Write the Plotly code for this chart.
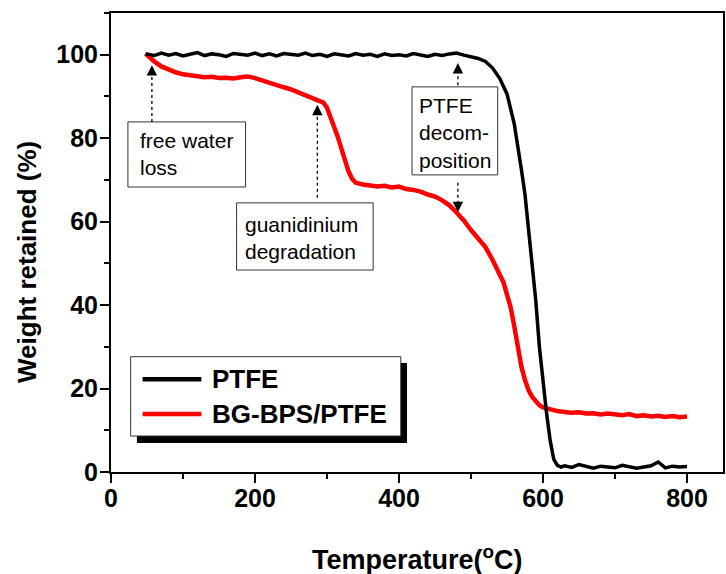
import plotly.graph_objects as go

# ---------------- data ----------------
ptfe_T = [48, 60, 70, 80, 90, 100, 110, 120, 130, 140, 150, 160, 170, 180, 190,
          200, 210, 220, 230, 240, 250, 260, 270, 280, 290, 300, 310, 320, 330,
          340, 350, 360, 370, 380, 390, 400, 410, 420, 430, 440, 450, 460, 470,
          480, 490, 500, 510, 520, 530, 540, 550, 560, 565, 570, 575, 580, 585,
          590, 595, 600, 605, 610, 615, 620, 625, 630, 640, 650, 660, 670, 680,
          690, 700, 710, 720, 730, 740, 750, 760, 770, 780, 790, 800]
ptfe_W = [100.2, 99.8, 100.4, 99.9, 100.3, 99.7, 100.1, 100.5, 99.8, 100.2,
          100.0, 99.6, 100.3, 100.1, 99.9, 100.4, 99.8, 100.2, 99.7, 100.3,
          100.0, 99.9, 100.4, 99.8, 100.1, 99.6, 100.2, 100.0, 99.7, 100.3,
          99.9, 100.1, 99.6, 100.2, 99.8, 100.0, 99.7, 100.3, 99.9, 99.6,
          100.1, 99.8, 100.2, 100.4, 99.9, 99.6, 99.1, 98.4, 96.8, 94.3,
          90.6, 83.5, 78.5, 72.5, 66.5, 58.0, 49.5, 41.0, 30.0, 21.0,
          14.0, 7.5, 3.0, 1.6, 1.2, 1.5, 1.1, 1.8, 1.3, 0.9,
          1.4, 1.2, 1.0, 1.6, 1.3, 0.9, 1.2, 1.5, 2.4, 1.0,
          1.4, 1.2, 1.3]

bg_T = [48, 55, 60, 70, 80, 90, 100, 110, 120, 130, 140, 150, 160, 170, 180,
        190, 200, 210, 220, 230, 240, 250, 260, 270, 280, 290, 295, 300, 305,
        310, 315, 320, 325, 330, 335, 340, 350, 360, 370, 380, 390, 400, 410,
        420, 430, 440, 450, 460, 470, 480, 490, 500, 510, 520, 530, 540, 545,
        550, 555, 560, 565, 570, 575, 580, 585, 590, 595, 600, 610, 620, 630,
        640, 650, 660, 670, 680, 690, 700, 710, 720, 730, 740, 750, 760, 770,
        780, 790, 800]
bg_W = [100.3, 99.2, 98.4, 97.2, 96.4, 95.8, 95.3, 95.0, 94.8, 94.6,
        94.7, 94.4, 94.5, 94.3, 94.6, 94.8, 94.4, 93.8, 93.2, 92.8,
        92.2, 91.7, 91.0, 90.4, 89.8, 89.1, 88.5, 87.3, 85.2, 83.0,
        80.3, 77.5, 74.8, 72.0, 70.2, 69.3, 68.9, 68.7, 68.4, 68.6,
        68.2, 68.4, 67.8, 67.6, 67.2, 66.5, 66.0, 65.1, 63.9, 62.2,
        60.3, 58.0, 56.0, 53.9, 50.8, 47.5, 45.5, 42.5, 39.5, 35.0,
        29.5, 25.2, 22.0, 19.6, 18.0, 16.8, 16.0, 15.5, 15.0, 14.6,
        14.4, 14.2, 14.3, 14.0, 14.1, 13.8, 14.0, 13.7, 13.6, 13.9,
        13.4, 13.6, 13.3, 13.5, 13.2, 13.4, 13.1, 13.3]

x_ticks = [0, 200, 400, 600, 800]
y_ticks = [0, 20, 40, 60, 80, 100]
series_names = ["PTFE", "BG-BPS/PTFE"]
series_colors = ["#000000", "#ff0000"]

FONT = "Liberation Sans, Arial, Helvetica, sans-serif"

fig = go.Figure()
fig.add_trace(go.Scatter(x=bg_T, y=bg_W, mode="lines", name=series_names[1],
                         line=dict(color=series_colors[1], width=4.5),
                         showlegend=False))
fig.add_trace(go.Scatter(x=ptfe_T, y=ptfe_W, mode="lines", name=series_names[0],
                         line=dict(color=series_colors[0], width=3.5),
                         showlegend=False))

axis_common = dict(
    showline=True, linecolor="black", linewidth=2, mirror=True,
    ticks="outside", ticklen=9, tickwidth=2, tickcolor="black",
    showgrid=False, zeroline=False,
    tickfont=dict(family=FONT, size=25, color="black", weight="bold"),
)
fig.update_xaxes(range=[0, 850], tickvals=x_ticks, ticklabelstandoff=-6,
                 minor=dict(ticks="outside", ticklen=5, tickwidth=2,
                            tickcolor="black", dtick=100, tick0=0),
                 **axis_common)
fig.update_yaxes(range=[0, 110], tickvals=y_ticks, ticklabelstandoff=-3,
                 minor=dict(ticks="outside", ticklen=5, tickwidth=2,
                            tickcolor="black", dtick=10, tick0=0),
                 **axis_common)

shapes = []
annotations = []

# annotation boxes (data coords)
boxes = [
    (23.5, 186.9, 68.3, 83.9),
    (174.4, 364.1, 48.4, 64.5),
    (418.1, 537.1, 71.2, 92.3),
]
for x0, x1, y0, y1 in boxes:
    shapes.append(dict(type="rect", xref="x", yref="y", x0=x0, x1=x1, y0=y0, y1=y1,
                       line=dict(color="#333333", width=1), fillcolor="white",
                       layer="above"))

box_texts = [
    ("free water<br>loss", 37.5, 82.6),
    ("guanidinium<br>degradation", 182.8, 62.5),
    ("PTFE<br>decom-<br>position", 425.0, 91.0),
]
for txt, x, y in box_texts:
    annotations.append(dict(text=txt, x=x, y=y, xref="x", yref="y",
                            xanchor="left", yanchor="top", align="left",
                            showarrow=False,
                            font=dict(family=FONT, size=21, color="black")))

# dotted arrows
arrows = [
    (56.8, 83.9, 94.9, 97.5, 11),
    (286.6, 65.7, 85.6, 88.0, 11),
    (481.8, 92.7, 95.6, 98.0, 11),
    (481.8, 69.3, 64.7, 62.3, -11),
]
for x, ya, yb, tip, ay in arrows:
    shapes.append(dict(type="line", xref="x", yref="y", x0=x, x1=x, y0=ya, y1=yb,
                       line=dict(color="black", width=1.3, dash="dot"),
                       layer="above"))
    annotations.append(dict(text="", x=x, y=tip, xref="x", yref="y",
                            showarrow=True, ax=0, ay=ay, arrowhead=2,
                            arrowsize=1.6, arrowwidth=1.3, arrowcolor="black",
                            standoff=0))

# legend box drawn in paper coordinates
shapes.append(dict(type="rect", xref="paper", yref="paper", x0=0.0423, x1=0.4837,
                   y0=0.0632, y1=0.2375, line=dict(width=0), fillcolor="black",
                   layer="above"))
shapes.append(dict(type="rect", xref="paper", yref="paper", x0=0.0321, x1=0.4735,
                   y0=0.0784, y1=0.2512, line=dict(color="#333333", width=1),
                   fillcolor="white", layer="above"))
leg_rows = [0.2020, 0.1264]
for name, color, yy in zip(series_names, series_colors, leg_rows):
    shapes.append(dict(type="line", xref="paper", yref="paper", x0=0.0516, x1=0.1477,
                       y0=yy, y1=yy, line=dict(color=color, width=4.5),
                       layer="above"))
    annotations.append(dict(text=name, x=0.1624, y=yy, xref="paper", yref="paper",
                            xanchor="left", yanchor="middle", showarrow=False,
                            font=dict(family=FONT, size=26, color="black",
                                      weight="bold")))

# axis titles
annotations.append(dict(text="Temperature(<sup>o</sup>C)", x=0.5, y=0,
                        xref="paper", yref="paper", xanchor="center",
                        yanchor="middle", yshift=-86, showarrow=False,
                        font=dict(family=FONT, size=27, color="black",
                                  weight="bold")))
annotations.append(dict(text="Weight retained (%)", x=0, y=0, xref="paper",
                        yref="paper", xanchor="center", yanchor="middle",
                        xshift=-84, yshift=210, textangle=-90, showarrow=False,
                        font=dict(family=FONT, size=26, color="black",
                                  weight="bold")))

fig.update_layout(
    width=726, height=574,
    margin=dict(l=111, r=1, t=13, b=102),
    paper_bgcolor="white", plot_bgcolor="white",
    shapes=shapes, annotations=annotations,
    showlegend=False,
)

fig.write_html("out.html")
